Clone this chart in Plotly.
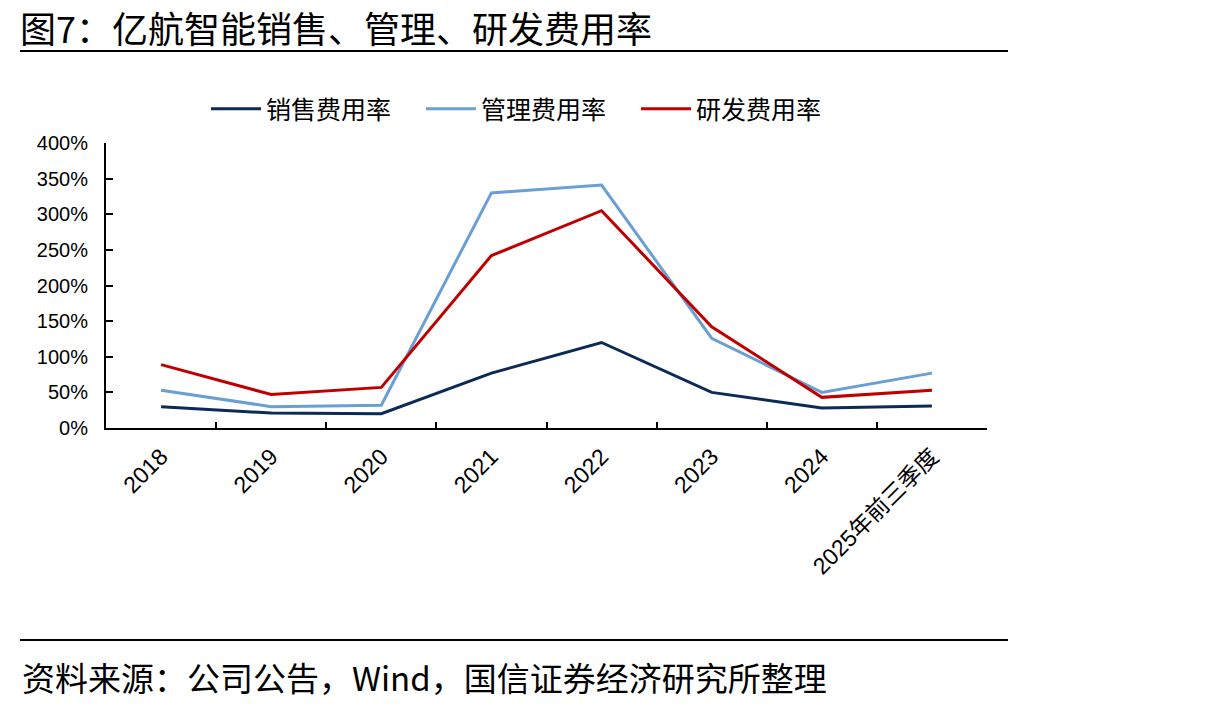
import plotly.graph_objects as go

categories = ["2018", "2019", "2020", "2021", "2022", "2023", "2024", "2025年前三季度"]
sales_rate = [30, 21, 20, 77, 120, 50, 28, 31]
admin_rate = [53, 30, 32, 330, 341, 126, 50, 77]
rd_rate = [89, 47, 57, 242, 305, 142, 43, 53]
series_names = ["销售费用率", "管理费用率", "研发费用率"]
y_ticks = [0, 50, 100, 150, 200, 250, 300, 350, 400]
y_tick_labels = [f"{v}%" for v in y_ticks]

colors = ["#0B2A55", "#6A9FD4", "#C00000"]
FONT = "Noto Sans CJK SC, Liberation Sans, sans-serif"

fig = go.Figure()
for name, vals, c in zip(series_names, [sales_rate, admin_rate, rd_rate], colors):
    fig.add_trace(go.Scatter(x=categories, y=vals, mode="lines", name=name,
                             line=dict(color=c, width=3)))

W, H = 1222, 708
L, R, T, B = 106, 987, 143, 428
pw, ph = R - L, B - T

def px(x):
    return (x - L) / pw

def py(y):
    return (B - y) / ph

fig.update_layout(
    width=W, height=H,
    margin=dict(l=L, r=W - R, t=T, b=H - B),
    paper_bgcolor="white", plot_bgcolor="white",
    font=dict(family=FONT, color="black"),
    showlegend=True,
    legend=dict(orientation="h", x=px(206), y=py(109), xanchor="left", yanchor="middle",
                font=dict(size=25, family=FONT, color="black"),
                entrywidth=150, entrywidthmode="pixels", bgcolor="rgba(0,0,0,0)",
                itemwidth=50),
    xaxis=dict(type="category", showline=True, linecolor="black", linewidth=2,
               ticks="inside", ticklen=6, tickwidth=1.5, tickcolor="black",
               tickson="boundaries", showgrid=False, tickangle=-45,
               tickfont=dict(size=23, family="Liberation Sans, Noto Sans CJK SC", color="black"),
               range=[-0.5, 7.5], zeroline=False, ticklabelstandoff=4),
    yaxis=dict(range=[0, 400], tickvals=y_ticks, ticktext=y_tick_labels,
               showline=True, linecolor="black", linewidth=2,
               ticks="inside", ticklen=7, tickwidth=1.5, tickcolor="black",
               showgrid=False, zeroline=False, ticklabelstandoff=12,
               tickfont=dict(size=20, family="Liberation Sans", color="black")),
)

fig.add_annotation(text="图7：亿航智能销售、管理、研发费用率", xref="paper", yref="paper",
                   x=px(18), y=py(27), xanchor="left", yanchor="middle", showarrow=False,
                   font=dict(size=36, family=FONT, color="black"))
fig.add_shape(type="line", xref="paper", yref="paper", x0=px(20), x1=px(1008),
              y0=py(51), y1=py(51), line=dict(color="black", width=2))
fig.add_shape(type="line", xref="paper", yref="paper", x0=px(20), x1=px(1008),
              y0=py(640), y1=py(640), line=dict(color="black", width=2))
fig.add_annotation(text="资料来源：公司公告，Wind，国信证券经济研究所整理", xref="paper", yref="paper",
                   x=px(20), y=py(677), xanchor="left", yanchor="middle", showarrow=False,
                   font=dict(size=33, family=FONT, color="black"))

fig.write_html("out.html")
